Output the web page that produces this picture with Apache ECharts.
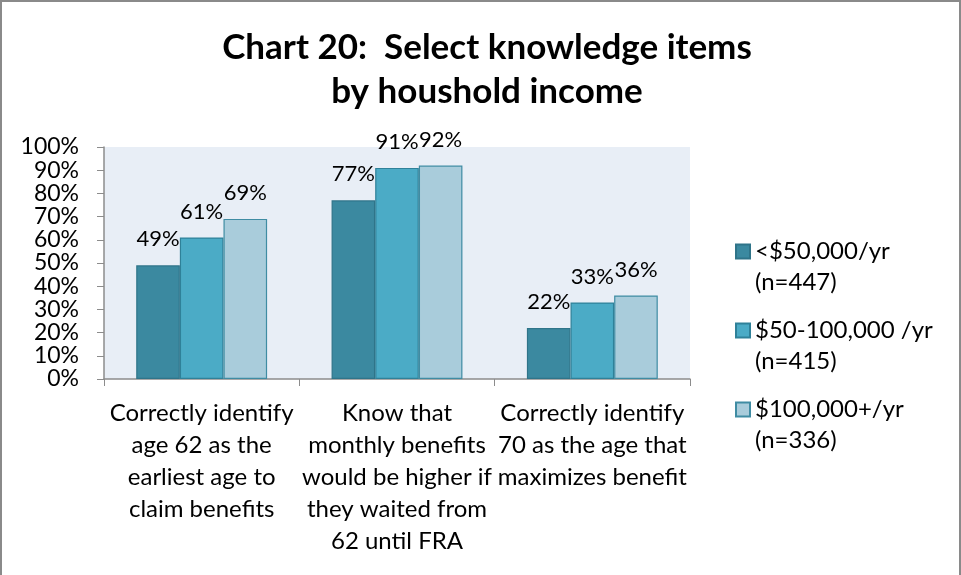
<!DOCTYPE html>
<html>
<head>
<meta charset="utf-8">
<script src="https://cdn.jsdelivr.net/npm/echarts@6/dist/echarts.min.js"></script>
<style>
  html, body { margin: 0; padding: 0; background: #fff; }
  #chart { width: 961px; height: 575px; box-sizing: border-box;
           border-top: 2px solid #8a8a8a; border-left: 2px solid #8a8a8a; border-right: 2px solid #8a8a8a; }
</style>
</head>
<body>
<div id="chart"></div>
<script>
// Knowledge items by household income (percent answering correctly)
const categories = [
  'Correctly identify\nage 62 as the\nearliest age to\nclaim benefits',
  'Know that\nmonthly benefits\nwould be higher if\nthey waited from\n62 until FRA',
  'Correctly identify\n70 as the age that\nmaximizes benefit'
];
const seriesNames = ['<$50,000/yr\n(n=447)', '$50-100,000 /yr\n(n=415)', '$100,000+/yr\n(n=336)'];
const lowIncome = [49, 77, 22];
const midIncome = [61, 91, 33];
const highIncome = [69, 92, 36];
const yTicks = [0, 10, 20, 30, 40, 50, 60, 70, 80, 90, 100];

const fontFamily = 'Lato, "Open Sans", sans-serif';
const fills = ['#3B89A0', '#4BABC6', '#A9CCDB'];
const borders = ['#2F7489', '#2F8199', '#3F8CA3'];
const values = [lowIncome, midIncome, highIncome];

const chart = echarts.init(document.getElementById('chart'));
chart.setOption({
  animation: false,
  textStyle: { fontFamily: fontFamily },
  title: {
    text: 'Chart 20:  Select knowledge items\nby houshold income',
    left: 480, top: 19, textAlign: 'center',
    textStyle: { fontFamily: fontFamily, fontSize: 35, fontWeight: 'bold', color: '#000', lineHeight: 44 }
  },
  grid: { left: 102, right: 269, top: 145, bottom: 196, show: true, backgroundColor: '#E8EEF6', borderWidth: 0 },
  legend: {
    orient: 'vertical', left: 728, top: 198,
    itemWidth: 14, itemHeight: 14, itemGap: -14,
    icon: 'rect',
    data: seriesNames,
    // a leading blank line keeps the swatch level with the first text line
    formatter: name => '\n' + name,
    textStyle: { fontFamily: fontFamily, fontSize: 24, color: '#000', lineHeight: 31 }
  },
  xAxis: {
    type: 'category', data: categories,
    axisLine: { lineStyle: { color: '#8c8c8c', width: 1.5 } },
    axisTick: { show: true, length: 7, lineStyle: { color: '#8c8c8c' } },
    axisLabel: { fontFamily: fontFamily, fontSize: 24, color: '#000', lineHeight: 32, margin: 18, interval: 0 }
  },
  yAxis: {
    type: 'value', min: 0, max: 100, interval: 10,
    axisLine: { show: true, lineStyle: { color: '#8c8c8c', width: 1.5 } },
    axisTick: { show: true, inside: false, length: 7, lineStyle: { color: '#8c8c8c' } },
    splitLine: { show: false },
    axisLabel: {
      fontFamily: fontFamily, fontSize: 23, color: '#000', margin: 25,
      customValues: yTicks,
      formatter: v => v + '%'
    }
  },
  series: seriesNames.map((name, i) => ({
    name: name, type: 'bar', data: values[i],
    barGap: '0%', barCategoryGap: '33%',
    itemStyle: { color: fills[i], borderColor: borders[i], borderWidth: 1.2 },
    label: {
      show: true, position: 'top', distance: 15,
      fontFamily: fontFamily, fontSize: 22, color: '#000',
      formatter: p => p.value + '%'
    }
  }))
});
</script>
</body>
</html>
